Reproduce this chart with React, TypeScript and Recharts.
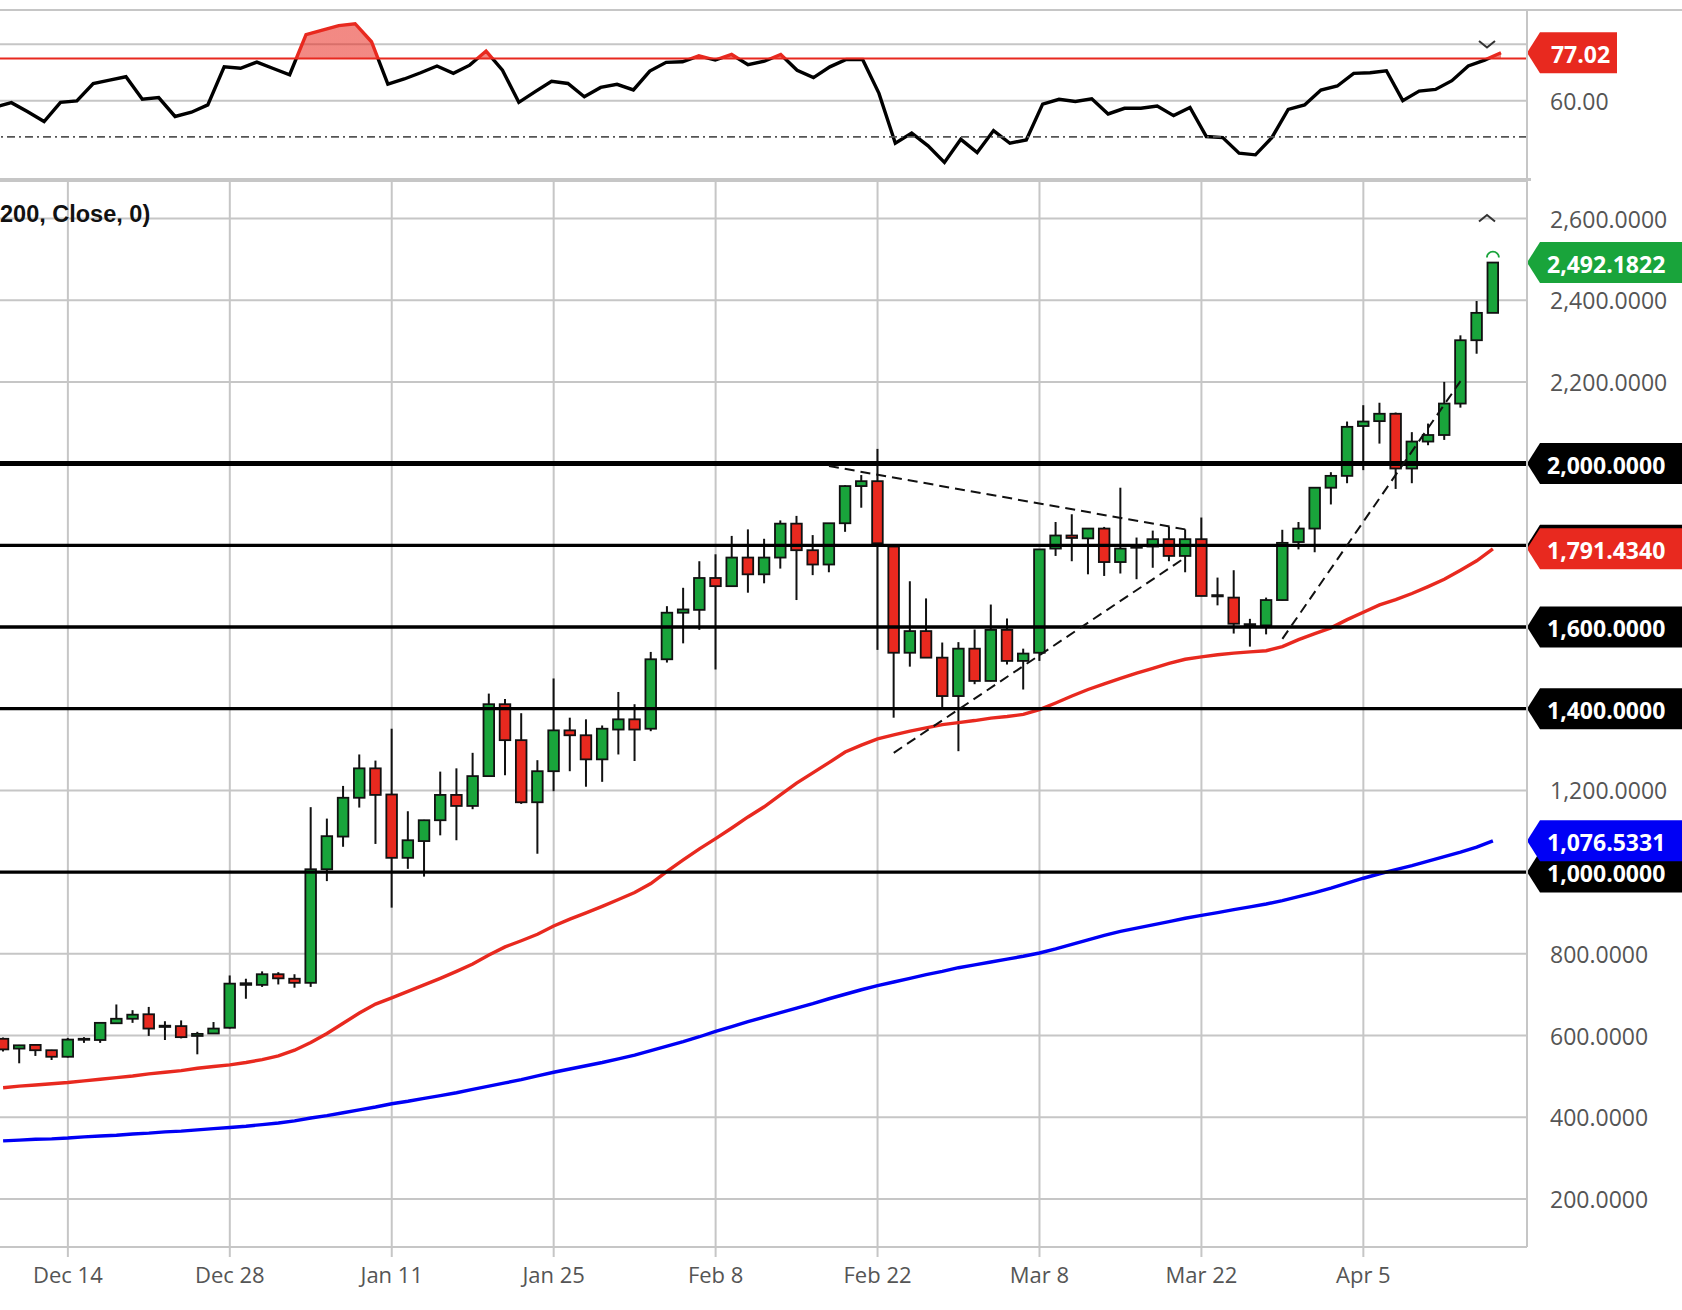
import React from 'react';
import {
  Area,
  Bar,
  CartesianGrid,
  ComposedChart,
  Line,
  ReferenceDot,
  ReferenceLine,
  XAxis,
  YAxis,
} from 'recharts';

const dates = [
  'Dec 8', 'Dec 9', 'Dec 10', 'Dec 11', 'Dec 14', 'Dec 15', 'Dec 16', 'Dec 17', 'Dec 18', 'Dec 21',
  'Dec 22', 'Dec 23', 'Dec 24', 'Dec 25', 'Dec 28', 'Dec 29', 'Dec 30', 'Dec 31', 'Jan 1', 'Jan 4',
  'Jan 5', 'Jan 6', 'Jan 7', 'Jan 8', 'Jan 11', 'Jan 12', 'Jan 13', 'Jan 14', 'Jan 15', 'Jan 18',
  'Jan 19', 'Jan 20', 'Jan 21', 'Jan 22', 'Jan 25', 'Jan 26', 'Jan 27', 'Jan 28', 'Jan 29', 'Feb 1',
  'Feb 2', 'Feb 3', 'Feb 4', 'Feb 5', 'Feb 8', 'Feb 9', 'Feb 10', 'Feb 11', 'Feb 12', 'Feb 15',
  'Feb 16', 'Feb 17', 'Feb 18', 'Feb 19', 'Feb 22', 'Feb 23', 'Feb 24', 'Feb 25', 'Feb 26', 'Mar 1',
  'Mar 2', 'Mar 3', 'Mar 4', 'Mar 5', 'Mar 8', 'Mar 9', 'Mar 10', 'Mar 11', 'Mar 12', 'Mar 15',
  'Mar 16', 'Mar 17', 'Mar 18', 'Mar 19', 'Mar 22', 'Mar 23', 'Mar 24', 'Mar 25', 'Mar 26', 'Mar 29',
  'Mar 30', 'Mar 31', 'Apr 1', 'Apr 2', 'Apr 5', 'Apr 6', 'Apr 7', 'Apr 8', 'Apr 9', 'Apr 12',
  'Apr 13', 'Apr 14', 'Apr 15',
];

const dateTicks = ['Dec 14', 'Dec 28', 'Jan 11', 'Jan 25', 'Feb 8', 'Feb 22', 'Mar 8', 'Mar 22', 'Apr 5'];

const opens = [
  592, 568, 577, 564, 548, 590, 589, 630, 641, 652,
  621, 623, 599, 605, 619, 724, 724, 750, 739, 729,
  1007, 1087, 1182, 1254, 1190, 1035, 1076, 1127, 1189, 1162,
  1235, 1411, 1323, 1171, 1247, 1347, 1335, 1276, 1349, 1374,
  1351, 1521, 1635, 1642, 1720, 1700, 1770, 1729, 1770, 1853,
  1788, 1753, 1854, 1945, 1957, 1797, 1537, 1590, 1525, 1431,
  1547, 1468, 1593, 1517, 1537, 1792, 1824, 1817, 1841, 1759,
  1794, 1797, 1815, 1774, 1815, 1678, 1672, 1606, 1604, 1666,
  1808, 1841, 1941, 1970, 2092, 2104, 2122, 1988, 2054, 2070,
  2147, 2302, 2369,
];

const highs = [
  595, 577, 578, 565, 594, 596, 632, 676, 662, 670,
  635, 637, 609, 633, 747, 739, 757, 755, 750, 1159,
  1131, 1211, 1288, 1273, 1351, 1149, 1128, 1246, 1254, 1292,
  1437, 1424, 1389, 1274, 1474, 1378, 1374, 1359, 1441, 1411,
  1539, 1651, 1696, 1761, 1778, 1823, 1839, 1816, 1861, 1872,
  1825, 1854, 1947, 1972, 2036, 1797, 1712, 1670, 1562, 1563,
  1594, 1655, 1621, 1547, 1790, 1857, 1876, 1841, 1845, 1941,
  1819, 1836, 1845, 1839, 1868, 1721, 1739, 1620, 1672, 1838,
  1857, 1941, 1979, 2103, 2143, 2149, 2125, 2077, 2098, 2200,
  2314, 2398, 2492.1822,
];

const lows = [
  561, 532, 550, 540, 546, 582, 582, 629, 631, 599,
  589, 593, 554, 604, 617, 690, 719, 725, 717, 719,
  978, 1062, 1158, 1069, 913, 1008, 989, 1090, 1078, 1154,
  1234, 1237, 1167, 1045, 1198, 1247, 1209, 1221, 1288, 1272,
  1345, 1513, 1560, 1593, 1496, 1700, 1684, 1707, 1743, 1666,
  1727, 1734, 1833, 1892, 1544, 1378, 1503, 1525, 1402, 1296,
  1460, 1467, 1508, 1447, 1517, 1774, 1761, 1729, 1725, 1731,
  1717, 1745, 1761, 1734, 1676, 1653, 1584, 1552, 1582, 1665,
  1790, 1783, 1900, 1952, 1984, 2049, 1938, 1952, 2045, 2058,
  2137, 2269, 2369,
];

const closes = [
  566, 576, 564, 548, 590, 592, 631, 641, 651, 617,
  624, 596, 604, 617, 727, 728, 750, 740, 729, 1007,
  1088, 1182, 1254, 1189, 1035, 1078, 1127, 1189, 1162, 1235,
  1411, 1323, 1171, 1247, 1347, 1335, 1276, 1351, 1374, 1349,
  1521, 1635, 1643, 1720, 1700, 1770, 1729, 1770, 1853, 1788,
  1753, 1854, 1945, 1957, 1805, 1537, 1590, 1525, 1431, 1547,
  1468, 1593, 1517, 1535, 1790, 1824, 1818, 1841, 1759, 1792,
  1797, 1815, 1774, 1815, 1676, 1675, 1608, 1607, 1666, 1806,
  1841, 1941, 1970, 2090, 2103, 2122, 1988, 2054, 2070, 2147,
  2302, 2369, 2492.1822,
];

const sma50 = [
  472, 476, 479, 482, 485, 489, 493, 497, 501, 506,
  510, 514, 520, 524, 528, 534, 541, 550, 564, 583,
  605, 630, 655, 677, 692, 708, 724, 740, 757, 775,
  797, 817, 832, 848, 868, 885, 900, 916, 933, 950,
  972, 1002, 1030, 1057, 1082, 1108, 1135, 1160, 1189, 1218,
  1243, 1268, 1294, 1311, 1326, 1336, 1345, 1353, 1361, 1366,
  1371, 1377, 1381, 1386, 1398, 1414, 1431, 1447, 1461, 1474,
  1487, 1499, 1511, 1521, 1527, 1532, 1536, 1539, 1542, 1552,
  1569, 1584, 1598, 1618, 1636, 1654, 1667, 1682, 1699, 1717,
  1739, 1762, 1791.434,
];

const sma200 = [
  342, 344, 346, 347, 349, 352, 354, 356, 359, 361,
  364, 366, 369, 372, 375, 378, 382, 386, 391, 398,
  404, 411, 418, 425, 433, 439, 446, 453, 460, 468,
  476, 484, 492, 501, 510, 518, 526, 534, 543, 552,
  563, 574, 585, 597, 610, 622, 634, 645, 656, 667,
  678, 690, 701, 712, 722, 731, 740, 749, 757, 766,
  773, 780, 787, 794, 802, 812, 823, 834, 845, 855,
  863, 871, 879, 887, 894, 901, 908, 915, 922, 930,
  940, 950, 961, 973, 985, 996, 1006, 1016, 1027, 1038,
  1049, 1061, 1076.5331,
];

const rsi = [
  57.7, 59.3, 56.1, 52.6, 59.4, 59.9, 66.1, 67.3, 68.5, 60.5,
  61.1, 54.4, 55.9, 58.5, 72.0, 71.5, 73.7, 71.4, 69.2, 83.4,
  85.0, 86.6, 87.3, 80.9, 65.9, 67.7, 69.9, 72.3, 69.7, 72.6,
  77.6, 70.8, 59.4, 63.2, 66.9, 66.1, 61.4, 64.7, 65.8, 63.8,
  70.5, 73.6, 73.8, 75.9, 74.4, 76.4, 72.8, 74.0, 76.4, 70.8,
  68.2, 72.0, 74.6, 74.6, 62.6, 44.9, 48.5, 44.0, 38.1, 46.3,
  41.6, 49.4, 44.9, 46.1, 58.8, 60.5, 59.7, 60.7, 55.3, 57.3,
  57.3, 58.1, 54.7, 57.6, 47.3, 46.9, 41.4, 40.8, 46.9, 56.9,
  58.5, 63.8, 65.2, 69.7, 69.9, 70.6, 60.0, 63.4, 64.0, 67.1,
  72.3, 74.4, 77.02,
];

const priceTicks = [200, 400, 600, 800, 1000, 1200, 1400, 1600, 1800, 2000, 2200, 2400, 2600];
const levels = [2000, 1800, 1600, 1400, 1000];
// the 1,800 tag sits fully under the moving-average tag, so only its edge shows
const levelsWithoutText = [1800];
const rsiTicks = [60, 80];
const rsiHiddenTicks = [80];
const rsiUpper = 75;
const rsiLower = 47.2;

const trendFrom = ['Feb 17', 'Feb 23', 'Mar 29'];
const trendFromValue = [1994, 1292, 1571];
const trendTo = ['Mar 19', 'Mar 19', 'Apr 13'];
const trendToValue = [1839, 1770, 2202];

const rows = dates.map((date, i) => ({
  date,
  open: opens[i],
  high: highs[i],
  low: lows[i],
  close: closes[i],
  sma50: sma50[i],
  sma200: sma200[i],
  rsi: rsi[i],
}));

const last = rows.length - 1;

const GREEN = '#19a43b';
const RED = '#e8291f';
const BLUE = '#0000f5';
const GRID = '#c6c6c6';
const FONT = "'Open Sans', sans-serif";

const fmt4 = (v: number) =>
  v.toLocaleString('en-US', { minimumFractionDigits: 4, maximumFractionDigits: 4 });

const CHART_W = 1687;
const AXIS_W = 155;
const PAD_RIGHT = 26;

const Candle = (props: any) => {
  const { x, y, width, height, payload } = props;
  if (!payload || payload.high == null) return <g />;
  const top = Math.min(y, y + height);
  const span = Math.abs(height);
  const range = payload.high - payload.low;
  const toY = (v: number) => top + ((payload.high - v) / range) * span;
  const cx = x + width / 2;
  const up = payload.close >= payload.open;
  const bodyTop = toY(Math.max(payload.open, payload.close));
  const bodyBottom = toY(Math.min(payload.open, payload.close));
  return (
    <g>
      <line x1={cx} x2={cx} y1={top} y2={top + span} stroke="#111" strokeWidth={2} />
      <rect
        x={cx - 5.3}
        y={bodyTop}
        width={10.6}
        height={Math.max(bodyBottom - bodyTop, 1)}
        fill={up ? GREEN : RED}
        stroke="#111"
        strokeWidth={1.8}
      />
    </g>
  );
};

const Tag = (props: any) => {
  const { viewBox, fill, text, w, center } = props;
  if (!viewBox) return <g />;
  const x0 = viewBox.x + viewBox.width;
  const cy = viewBox.y;
  const h = 41;
  const tip = 13;
  const d = `M${x0},${cy} L${x0 + tip},${cy - h / 2} L${x0 + tip + w},${cy - h / 2} L${x0 + tip + w},${cy + h / 2} L${x0 + tip},${cy + h / 2} Z`;
  return (
    <g>
      <path d={d} fill={fill} />
      {text ? (
        <text
          x={center ? x0 + tip + w / 2 + 2 : x0 + 20}
          y={cy + 1}
          textAnchor={center ? 'middle' : 'start'}
          dominantBaseline="central"
          fill="#fff"
          fontWeight={700}
          fontSize={23}
          fontFamily={FONT}
        >
          {text}
        </text>
      ) : null}
    </g>
  );
};

const PriceTick = (props: any) => {
  const { x, y, payload } = props;
  if (levels.includes(payload.value)) return <g />;
  return (
    <text x={x + 23} y={y} dominantBaseline="central" fontSize={23} fill="#555" fontFamily={FONT}>
      {fmt4(payload.value)}
    </text>
  );
};

const RsiTick = (props: any) => {
  const { x, y, payload } = props;
  if (rsiHiddenTicks.includes(payload.value)) return <g />;
  return (
    <text x={x + 23} y={y} dominantBaseline="central" fontSize={23} fill="#555" fontFamily={FONT}>
      {payload.value.toFixed(2)}
    </text>
  );
};

const DateTick = (props: any) => {
  const { x, y, payload } = props;
  return (
    <text x={x} y={y + 17} textAnchor="middle" dominantBaseline="central" fontSize={22} fill="#555" fontFamily={FONT}>
      {payload.value}
    </text>
  );
};

const HighMark = (props: any) => {
  const { cx, cy } = props;
  if (cx == null || cy == null) return <g />;
  return (
    <path
      d={`M${cx - 6},${cy - 5} A6 6 0 0 1 ${cx + 6},${cy - 5}`}
      fill="none"
      stroke={GREEN}
      strokeWidth={1.8}
    />
  );
};

const rsiMax = Math.max(...rsi);
const rsiMin = Math.min(...rsi);
const rsiOff = (rsiMax - rsiUpper) / (rsiMax - rsiMin);

const RsiPanel = () => (
  <ComposedChart width={CHART_W} height={179} data={rows} margin={{ top: 10, right: 0, bottom: 0, left: 0 }}>
    <defs>
      <linearGradient id="rsiStroke" x1="0" y1="0" x2="0" y2="1">
        <stop offset={0} stopColor={RED} />
        <stop offset={rsiOff} stopColor={RED} />
        <stop offset={rsiOff} stopColor="#000" />
        <stop offset={1} stopColor="#000" />
      </linearGradient>
      <linearGradient id="rsiFill" x1="0" y1="0" x2="0" y2="1">
        <stop offset={0} stopColor={RED} stopOpacity={0.55} />
        <stop offset={rsiOff} stopColor={RED} stopOpacity={0.55} />
        <stop offset={rsiOff} stopColor={RED} stopOpacity={0} />
        <stop offset={1} stopColor={RED} stopOpacity={0} />
      </linearGradient>
    </defs>
    <CartesianGrid stroke={GRID} strokeWidth={2} />
    <XAxis
      dataKey="date"
      type="category"
      ticks={dateTicks}
      interval={0}
      height={0}
      tick={false}
      axisLine={false}
      tickLine={false}
      padding={{ left: 0, right: PAD_RIGHT }}
    />
    <YAxis
      orientation="right"
      width={AXIS_W}
      domain={[32.23, 92.16]}
      allowDataOverflow
      ticks={rsiTicks}
      tick={<RsiTick />}
      tickLine={false}
      tickSize={0}
      tickMargin={0}
      axisLine={{ stroke: GRID, strokeWidth: 2 }}
    />
    <ReferenceLine y={rsiUpper} stroke={RED} strokeWidth={2} />
    <ReferenceLine y={rsiLower} stroke="#555" strokeWidth={1.8} strokeDasharray="8 4 2 4" />
    <Area
      type="linear"
      dataKey="rsi"
      baseValue={rsiUpper}
      stroke="url(#rsiStroke)"
      strokeWidth={3.4}
      fill="url(#rsiFill)"
      fillOpacity={1}
      dot={false}
      activeDot={false}
      isAnimationActive={false}
    />
    <ReferenceLine
      y={rsi[last]}
      stroke="none"
      zIndex={480}
      label={<Tag fill={RED} text={rsi[last].toFixed(2)} w={77} center />}
    />
  </ComposedChart>
);

const PricePanel = () => (
  <ComposedChart width={CHART_W} height={1129} data={rows} margin={{ top: 0, right: 0, bottom: 0, left: 0 }}>
    <CartesianGrid stroke={GRID} strokeWidth={2} />
    <XAxis
      dataKey="date"
      type="category"
      ticks={dateTicks}
      interval={0}
      height={63}
      tick={<DateTick />}
      tickSize={10}
      tickMargin={0}
      tickLine={{ stroke: GRID, strokeWidth: 2 }}
      axisLine={{ stroke: GRID, strokeWidth: 2 }}
      padding={{ left: 0, right: PAD_RIGHT }}
    />
    <YAxis
      orientation="right"
      width={AXIS_W}
      domain={[82.3, 2691.8]}
      allowDataOverflow
      ticks={priceTicks}
      tick={<PriceTick />}
      tickLine={false}
      tickSize={0}
      tickMargin={0}
      axisLine={{ stroke: GRID, strokeWidth: 2 }}
    />
    <Bar dataKey={(d: any) => [d.low, d.high]} barSize={12} shape={<Candle />} isAnimationActive={false} />
    <Line type="linear" dataKey="sma50" stroke={RED} strokeWidth={3.4} dot={false} activeDot={false} isAnimationActive={false} />
    <Line type="linear" dataKey="sma200" stroke={BLUE} strokeWidth={3.4} dot={false} activeDot={false} isAnimationActive={false} />
    {levels.map((v) => (
      <ReferenceLine
        key={v}
        y={v}
        stroke="#000"
        strokeWidth={v === 2000 ? 5 : 3.3}
        zIndex={450}
        label={<Tag fill="#000" text={levelsWithoutText.includes(v) ? '' : fmt4(v)} w={150} />}
      />
    ))}
    {trendFrom.map((from, i) => (
      <ReferenceLine
        key={from + i}
        segment={[
          { x: from, y: trendFromValue[i] },
          { x: trendTo[i], y: trendToValue[i] },
        ]}
        stroke="#111"
        strokeWidth={2}
        strokeDasharray="10 6"
        zIndex={460}
      />
    ))}
    <ReferenceLine y={sma50[last]} stroke="none" zIndex={480} label={<Tag fill={RED} text={fmt4(sma50[last])} w={150} />} />
    <ReferenceLine y={sma200[last]} stroke="none" zIndex={480} label={<Tag fill={BLUE} text={fmt4(sma200[last])} w={150} />} />
    <ReferenceLine y={closes[last]} stroke="none" zIndex={480} label={<Tag fill={GREEN} text={fmt4(closes[last])} w={150} />} />
    <ReferenceDot x={dates[last]} y={highs[last]} r={0} shape={<HighMark />} />
  </ComposedChart>
);

export default function App() {
  return (
    <div style={{ position: 'absolute', left: 0, top: 0, width: 1682, height: 1310, overflow: 'hidden', background: '#fff' }}>
      <div style={{ position: 'absolute', left: 0, top: 9, width: 1682, height: 2, background: GRID }} />
      <div style={{ position: 'absolute', left: -5, top: 0 }}>
        <RsiPanel />
      </div>
      <div style={{ position: 'absolute', left: 0, top: 177.5, width: 1531, height: 3.5, background: GRID }} />
      <div style={{ position: 'absolute', left: -5, top: 181 }}>
        <PricePanel />
      </div>
      <svg
        width={1682}
        height={1310}
        style={{ position: 'absolute', left: 0, top: 0, pointerEvents: 'none' }}
      >
        <polyline points="1479,41 1487,47.5 1495,41" fill="none" stroke="#333" strokeWidth={2} />
        <polyline points="1479,221.5 1487,215 1495,221.5" fill="none" stroke="#333" strokeWidth={2} />
        <text x={0} y={222} fontSize={23.5} fontWeight={700} fill="#111" fontFamily="'Liberation Sans', Arial, sans-serif">
          200, Close, 0)
        </text>
      </svg>
    </div>
  );
}
